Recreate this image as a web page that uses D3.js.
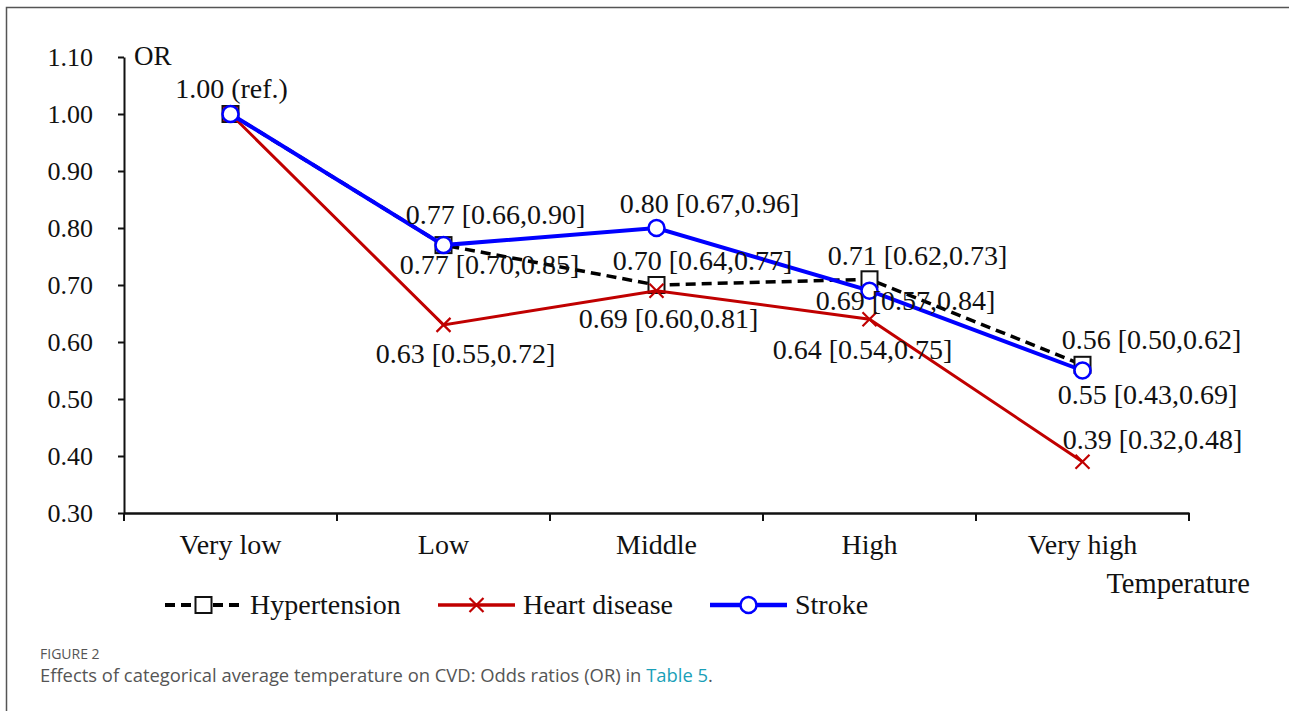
<!DOCTYPE html>
<html>
<head>
<meta charset="utf-8">
<script src="https://cdn.jsdelivr.net/npm/d3@7"></script>
<style>
  body { margin: 0; background: #fff; }
  svg text { font-family: "Liberation Serif", "Times New Roman", serif; fill: #111; }
  svg text.cap { font-family: "Open Sans", "Noto Sans", sans-serif; fill: #555; }
</style>
</head>
<body>
<div id="visDiv"></div>
<script>
(function () {

	///////////////////////
	// DATA
	//
	var categories = ["Very low", "Low", "Middle", "High", "Very high"];
	var yTicks = [0.30, 0.40, 0.50, 0.60, 0.70, 0.80, 0.90, 1.00, 1.10];

	var hypertension   = [1.00, 0.77, 0.70, 0.71, 0.56];
	var hypertensionLo = [null, 0.70, 0.64, 0.62, 0.50];
	var hypertensionHi = [null, 0.85, 0.77, 0.73, 0.62];

	var heart   = [1.00, 0.63, 0.69, 0.64, 0.39];
	var heartLo = [null, 0.55, 0.60, 0.54, 0.32];
	var heartHi = [null, 0.72, 0.81, 0.75, 0.48];

	var stroke   = [1.00, 0.77, 0.80, 0.69, 0.55];
	var strokeLo = [null, 0.66, 0.67, 0.57, 0.43];
	var strokeHi = [null, 0.90, 0.96, 0.84, 0.69];

	///////////////////////
	// DEFS
	//
	var W = 1289, H = 711;
	var x0 = 124, x1 = 1189, yTop = 57, yBot = 513;

	// label offsets relative to each point (layout only)
	var offHyp   = [[1, -16], [46, 29], [46, -15], [48, -14], [69, -16]];
	var offHeart = [null, [22, 38], [12, 37], [-7, 40], [70, -13]];
	var offStroke = [null, [52, -21], [53, -15], [36, 19], [65, 33]];

	var series = [
		{name: "Hypertension", v: hypertension, lo: hypertensionLo, hi: hypertensionHi, off: offHyp,
		 color: "#000", width: 3.5, dash: "10,6", marker: "square"},
		{name: "Heart disease", v: heart, lo: heartLo, hi: heartHi, off: offHeart,
		 color: "#c00000", width: 3, dash: null, marker: "cross"},
		{name: "Stroke", v: stroke, lo: strokeLo, hi: strokeHi, off: offStroke,
		 color: "#0000ff", width: 4, dash: null, marker: "circle"}
	];

	var svg = d3.select('#visDiv')
		.append('svg')
			.attr('width', W)
			.attr('height', H);

	// frame
	svg.append("path")
		.attr("d", "M6.5," + H + "V7.5H" + W)
		.attr("fill", "none")
		.attr("stroke", "#555")
		.attr("stroke-width", 1.5);

	var x = d3.scaleBand().domain(categories).range([x0, x1]).padding(0);
	var y = d3.scaleLinear().domain([0.3, 1.1]).range([yBot, yTop]);
	function cx(c) { return x(c) + x.bandwidth() / 2; }

	// y axis
	var yAxis = svg.append("g")
		.attr("transform", "translate(" + x0 + ",0)")
		.call(d3.axisLeft(y).tickValues(yTicks).tickFormat(d3.format(".2f"))
			.tickSize(6).tickSizeOuter(0).tickPadding(25));
	yAxis.selectAll(".tick line").attr("stroke", "#111").attr("stroke-width", 2);
	yAxis.select(".domain").attr("stroke", "#111").attr("stroke-width", 2);
	yAxis.selectAll(".tick text")
		.style("font-family", "Liberation Serif")
		.attr("font-size", 26)
		.attr("fill", "#111");

	// x axis
	var xAxis = svg.append("g")
		.attr("transform", "translate(0," + yBot + ")")
		.call(d3.axisBottom(x).tickSize(0).tickSizeOuter(0).tickPadding(21));
	xAxis.select(".domain").attr("stroke", "#111").attr("stroke-width", 2.5);
	xAxis.selectAll(".tick text")
		.style("font-family", "Liberation Serif")
		.attr("font-size", 28)
		.attr("fill", "#111");

	var bounds = categories.map(function (c) { return x(c); }).concat([x1]);
	svg.append("g").selectAll("line")
		.data(bounds)
		.join("line")
			.attr("x1", function (d) { return d; })
			.attr("x2", function (d) { return d; })
			.attr("y1", yBot)
			.attr("y2", yBot + 8)
			.attr("stroke", "#111")
			.attr("stroke-width", 2);

	svg.append("text").attr("x", x0 + 10).attr("y", 65).attr("font-size", 27).text("OR");
	svg.append("text").attr("x", 1250).attr("y", 593).attr("font-size", 28.5)
		.attr("text-anchor", "end").text("Temperature");

	///////////////////////
	// SERIES
	//
	var line = d3.line()
		.x(function (d, i) { return cx(categories[i]); })
		.y(function (d) { return y(d); });

	function drawMarker(g, kind, color) {
		if (kind === "square") {
			g.append("rect").attr("x", -8).attr("y", -8).attr("width", 16).attr("height", 16)
				.attr("fill", "#fff").attr("stroke", "#111").attr("stroke-width", 2);
		} else if (kind === "circle") {
			g.append("circle").attr("r", 8)
				.attr("fill", "#fff").attr("stroke", color).attr("stroke-width", 2.5);
		} else {
			g.append("path").attr("d", "M-7,-7L7,7M-7,7L7,-7")
				.attr("stroke", color).attr("stroke-width", 2.2);
		}
	}

	series.forEach(function (s) {
		svg.append("path")
			.datum(s.v)
			.attr("fill", "none")
			.attr("stroke", s.color)
			.attr("stroke-width", s.width)
			.attr("stroke-dasharray", s.dash)
			.attr("d", line);

		s.v.forEach(function (d, i) {
			var g = svg.append("g")
				.attr("transform", "translate(" + cx(categories[i]) + "," + y(d) + ")");
			drawMarker(g, s.marker, s.color);
		});
	});

	// value labels on top
	var fmt = d3.format(".2f");
	series.forEach(function (s) {
		s.v.forEach(function (d, i) {
			if (!s.off[i]) return;
			var txt = s.lo[i] == null ? fmt(d) + " (ref.)"
				: fmt(d) + " [" + fmt(s.lo[i]) + "," + fmt(s.hi[i]) + "]";
			svg.append("text")
				.attr("x", cx(categories[i]) + s.off[i][0])
				.attr("y", y(d) + s.off[i][1])
				.attr("text-anchor", "middle")
				.attr("font-size", 28)
				.text(txt);
		});
	});

	///////////////////////
	// LEGEND
	//
	var legX = [165, 438, 710];
	var leg = svg.append("g").selectAll("g")
		.data(series)
		.join("g")
			.attr("transform", function (d, i) { return "translate(" + legX[i] + ",605)"; });

	leg.append("line")
		.attr("x1", 0).attr("x2", 77)
		.attr("stroke", function (d) { return d.color; })
		.attr("stroke-width", function (d) { return d.width + 0.5; })
		.attr("stroke-dasharray", function (d) { return d.dash; });
	leg.each(function (d) {
		var g = d3.select(this).append("g").attr("transform", "translate(38.5,0)");
		drawMarker(g, d.marker, d.color);
	});
	leg.append("text")
		.attr("x", 85).attr("y", 9)
		.attr("font-size", 28)
		.text(function (d) { return d.name; });

	///////////////////////
	// CAPTION
	//
	svg.append("text").attr("class", "cap")
		.attr("x", 40).attr("y", 659)
		.attr("font-size", 14).attr("font-weight", 500)
		.text("FIGURE 2");
	var cap = svg.append("text").attr("class", "cap")
		.attr("x", 40).attr("y", 682)
		.attr("font-size", 18.4);
	cap.append("tspan").text("Effects of categorical average temperature on CVD: Odds ratios (OR) in ");
	cap.append("tspan").style("fill", "#1a9fb8").text("Table 5");
	cap.append("tspan").text(".");

}());
</script>
</body>
</html>
